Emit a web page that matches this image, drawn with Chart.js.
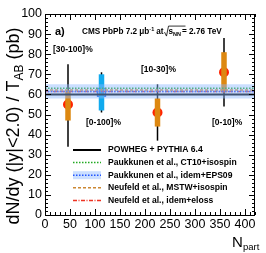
<!DOCTYPE html>
<html>
<head>
<meta charset="utf-8">
<script src="https://cdn.jsdelivr.net/npm/chart.js@4"></script>
<style>
body{margin:0;background:#fff;}
#wrap{width:266px;height:253px;position:relative;}
</style>
</head>
<body>
<div id="wrap"><canvas id="chart-cms" width="266" height="253"></canvas></div>
<script>
// centrality bins
var bins = ['[30-100]%', '[0-100]%', '[10-30]%', '[0-10]%'];
var npart = [46, 113, 225, 358];
var yield_val = [55, 61, 51, 71];
var stat_lo = [34, 51, 37, 54];
var stat_hi = [75, 71, 65, 88];
var syst_lo = [47, 52, 44, 61];
var syst_hi = [62, 70, 58, 81];

// theory curves (flat in Npart)
var powheg = 60;
var cteq_iso = 63;
var eps09 = 61.5;
var eps09_lo = 58;
var eps09_hi = 65;
var mstw_iso = 62.2;
var mstw_eloss = 61.4;

var xTicks = [0, 50, 100, 150, 200, 250, 300, 350, 400];
var yTicks = [0, 10, 20, 30, 40, 50, 60, 70, 80, 90, 100];
var xMin = 0, xMax = 420;

var legendLabels = ['POWHEG + PYTHIA 6.4', 'Paukkunen et al., CT10+isospin', 'Paukkunen et al., idem+EPS09',
  'Neufeld et al., MSTW+isospin', 'Neufeld et al., idem+eloss'];

function flat(v){ return [{x: xMin, y: v}, {x: xMax, y: v}]; }

var datasets = [];
datasets.push({type:'line', data: flat(eps09_lo), borderWidth:0, pointRadius:0, fill:false, borderColor:'rgba(0,0,0,0)'});
datasets.push({type:'line', data: flat(eps09_hi), borderWidth:0, pointRadius:0, fill:'-1', backgroundColor:'rgba(140,185,255,0.45)', borderColor:'rgba(0,0,0,0)'});
datasets.push({type:'line', data: flat(powheg), borderWidth:2, pointRadius:0, borderColor:'#000'});
datasets.push({type:'line', data: flat(cteq_iso), borderWidth:1.5, pointRadius:0, borderColor:'#22aa22', borderDash:[1.5,1.5]});
datasets.push({type:'line', data: flat(eps09), borderWidth:1.5, pointRadius:0, borderColor:'#2255ff', borderDash:[1.5,1.5]});
datasets.push({type:'line', data: flat(mstw_iso), borderWidth:1.5, pointRadius:0, borderColor:'#cc8833', borderDash:[3,2]});
datasets.push({type:'line', data: flat(mstw_eloss), borderWidth:1.5, pointRadius:0, borderColor:'#ee3322', borderDash:[4,1.5,1,1.5]});

for (var i = 0; i < npart.length; i++) {
  var boxColor = (i == 1) ? '#11aaee' : '#dd8811';
  datasets.push({type:'line', data:[{x:npart[i], y:syst_lo[i]}, {x:npart[i], y:syst_hi[i]}],
    borderWidth:5.5, pointRadius:0, borderColor:boxColor, borderCapStyle:'butt'});
  datasets.push({type:'line', data:[{x:npart[i], y:stat_lo[i]}, {x:npart[i], y:stat_hi[i]}],
    borderWidth:1.5, pointRadius:0, borderColor:'#000', borderCapStyle:'butt'});
}
datasets.push({type:'scatter', data:[0,2,3].map(function(k){ return {x:npart[k], y:yield_val[k]}; }),
  pointRadius:5, pointBackgroundColor:'#ff2200', pointBorderColor:'#ff2200', pointBorderWidth:0});
datasets.push({type:'scatter', data:[{x:npart[1], y:yield_val[1]}], pointStyle:'rect', pointRadius:5.5,
  pointBackgroundColor:'#fff', pointBorderColor:'#2266ee', pointBorderWidth:1.5});

var legendStyle = [
  {c:'#000', w:2, d:[]},
  {c:'#22aa22', w:1.5, d:[1.5,1.5]},
  {c:'#2255ff', w:1.5, d:[1.5,1.5], band:true},
  {c:'#cc8833', w:1.5, d:[3,2]},
  {c:'#ee3322', w:1.5, d:[4,1.5,1,1.5]}
];

var decor = {
  id: 'decor',
  afterDraw: function(chart){
    var ctx = chart.ctx, a = chart.chartArea, sx = chart.scales.x, sy = chart.scales.y;
    ctx.save();
    // frame
    ctx.strokeStyle = '#000'; ctx.lineWidth = 1; ctx.setLineDash([]);
    ctx.strokeRect(a.left + 0.5, a.top + 0.5, a.right - a.left - 1, a.bottom - a.top);
    // inner ticks, all sides
    ctx.beginPath();
    for (var v = 0; v <= xMax; v += 10) {
      var px = Math.round(sx.getPixelForValue(v)) + 0.5;
      var len = (v % 50 == 0) ? 6 : 3;
      ctx.moveTo(px, a.bottom); ctx.lineTo(px, a.bottom - len);
      ctx.moveTo(px, a.top); ctx.lineTo(px, a.top + len);
    }
    for (var w = 0; w <= 100; w += 2) {
      var py = Math.round(sy.getPixelForValue(w)) + 0.5;
      var l2 = (w % 10 == 0) ? 6 : 3;
      ctx.moveTo(a.left, py); ctx.lineTo(a.left + l2, py);
      ctx.moveTo(a.right, py); ctx.lineTo(a.right - l2, py);
    }
    ctx.stroke();

    // annotations
    ctx.fillStyle = '#000';
    ctx.textBaseline = 'middle';
    ctx.font = 'bold 11px "Liberation Sans", Arial';
    ctx.fillText('a)', a.left + 10, sy.getPixelForValue(91));
    ctx.font = 'bold 8.2px "Liberation Sans", Arial';
    var t = 'CMS PbPb 7.2 \u03bcb', xx = a.left + 37, yy = sy.getPixelForValue(91);
    ctx.fillText(t, xx, yy); xx += ctx.measureText(t).width;
    ctx.font = 'bold 5.5px "Liberation Sans", Arial';
    ctx.fillText('-1', xx, yy - 3); xx += ctx.measureText('-1').width + 2;
    ctx.font = 'bold 8.2px "Liberation Sans", Arial';
    ctx.fillText('at', xx, yy); xx += ctx.measureText('at').width + 1;
    ctx.beginPath(); ctx.lineWidth = 0.8;
    ctx.moveTo(xx, yy); ctx.lineTo(xx + 2, yy + 4); ctx.lineTo(xx + 4, yy - 6); ctx.lineTo(xx + 21, yy - 6);
    ctx.stroke();
    xx += 4;
    ctx.fillText('s', xx, yy); xx += ctx.measureText('s').width;
    ctx.font = 'bold 5.5px "Liberation Sans", Arial';
    ctx.fillText('NN', xx, yy + 2); xx += ctx.measureText('NN').width + 1;
    ctx.font = 'bold 8.2px "Liberation Sans", Arial';
    ctx.fillText('= 2.76 TeV', xx, yy);

    ctx.font = 'bold 8.5px "Liberation Sans", Arial';
    var labPos = [[53, 50], [86, 123], [141, 70], [212, 123]];
    for (var k = 0; k < bins.length; k++) ctx.fillText(bins[k], labPos[k][0], labPos[k][1]);

    // legend
    ctx.font = 'bold 8.6px "Liberation Sans", Arial';
    for (var j = 0; j < legendLabels.length; j++) {
      var ly = 150 + j * 12.6, s = legendStyle[j];
      if (s.band) { ctx.fillStyle = 'rgba(140,185,255,0.45)'; ctx.fillRect(73, ly - 4, 28, 8); }
      ctx.beginPath(); ctx.strokeStyle = s.c; ctx.lineWidth = s.w; ctx.setLineDash(s.d);
      ctx.moveTo(73, ly); ctx.lineTo(101, ly); ctx.stroke();
      ctx.setLineDash([]);
      ctx.fillStyle = '#000';
      ctx.fillText(legendLabels[j], 108, ly);
    }

    // y title
    ctx.save();
    ctx.translate(13, 126);
    ctx.rotate(-Math.PI / 2);
    ctx.font = '18px "Liberation Sans", Arial';
    var p1 = 'dN/dy (|y|<2.0) / T', p2 = 'AB', p3 = ' (pb)';
    var w1 = ctx.measureText(p1).width, w3 = ctx.measureText(p3).width;
    ctx.font = '12px "Liberation Sans", Arial';
    var w2 = ctx.measureText(p2).width;
    var x0 = -(w1 + w2 + w3) / 2;
    ctx.textAlign = 'left'; ctx.textBaseline = 'alphabetic';
    ctx.font = '18px "Liberation Sans", Arial';
    ctx.fillText(p1, x0, 6);
    ctx.font = '12px "Liberation Sans", Arial';
    ctx.fillText(p2, x0 + w1, 10);
    ctx.font = '18px "Liberation Sans", Arial';
    ctx.fillText(p3, x0 + w1 + w2, 6);
    ctx.restore();

    // x title
    ctx.textBaseline = 'alphabetic';
    ctx.font = '15px "Liberation Sans", Arial';
    ctx.fillText('N', 232, 247);
    ctx.font = '9.5px "Liberation Sans", Arial';
    ctx.fillText('part', 243, 250);
    ctx.restore();
  }
};

new Chart(document.getElementById('chart-cms').getContext('2d'), {
  type: 'scatter',
  data: { datasets: datasets },
  options: {
    responsive: false,
    animation: false,
    layout: { padding: { left: 0, right: 11, top: 14, bottom: 0 } },
    plugins: { legend: { display: false }, tooltip: { enabled: false } },
    scales: {
      x: {
        type: 'linear', min: xMin, max: xMax,
        afterBuildTicks: function(s){ s.ticks = xTicks.map(function(v){ return {value: v}; }); },
        afterFit: function(s){ s.height = 38; },
        grid: { display: false, drawTicks: false },
        border: { display: false },
        ticks: { color: '#000', padding: 2, maxRotation: 0, font: { size: 12.5, family: '"Liberation Sans", Arial' } }
      },
      y: {
        type: 'linear', min: 0, max: 100,
        afterBuildTicks: function(s){ s.ticks = yTicks.map(function(v){ return {value: v}; }); },
        afterFit: function(s){ s.width = 45; },
        grid: { display: false, drawTicks: false },
        border: { display: false },
        ticks: { color: '#000', padding: 3, font: { size: 12.5, family: '"Liberation Sans", Arial' } }
      }
    }
  },
  plugins: [decor]
});
</script>
</body>
</html>
